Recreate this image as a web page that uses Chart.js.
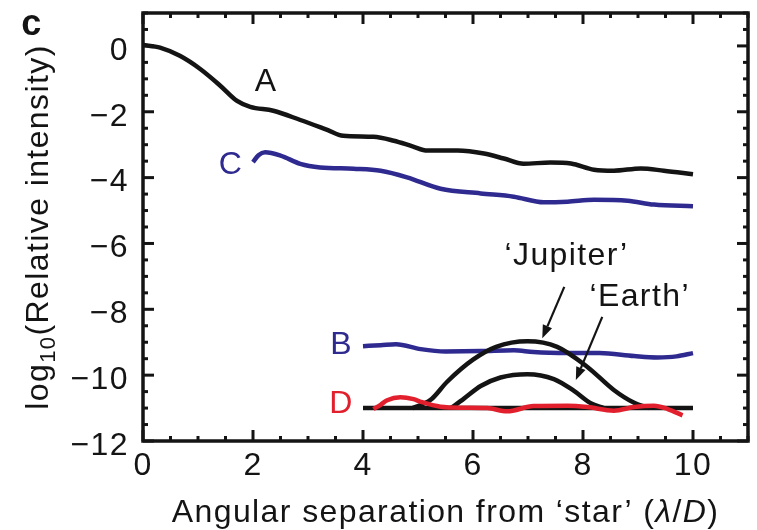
<!DOCTYPE html>
<html><head><meta charset="utf-8">
<script src="https://cdn.jsdelivr.net/npm/chart.js@4/dist/chart.umd.min.js"></script>
<style>html,body{margin:0;padding:0;background:#fff}#wrap{width:757px;height:530px}</style>
</head><body><div id="wrap"><canvas id="c" width="757" height="530"></canvas></div>
<script>
// ---- data ----
const xTickValues = [0, 2, 4, 6, 8, 10];
const xTickLabels = ['0', '2', '4', '6', '8', '10'];
const yTickValues = [-12, -10, -8, -6, -4, -2, 0];
const yTickLabels = ['\u221212', '\u221210', '\u22128', '\u22126', '\u22124', '\u22122', '0'];

const seriesA = [[0,0.03],[0.31,-0.05],[0.67,-0.3],[1.04,-0.7],[1.4,-1.2],[1.71,-1.67],[1.95,-1.85],[2.37,-1.97],[2.86,-2.25],[3.35,-2.55],[3.64,-2.73],[4.19,-2.76],[4.56,-2.88],[4.9,-3.05],[5.17,-3.18],[5.72,-3.18],[6.2,-3.27],[6.56,-3.42],[6.92,-3.58],[7.41,-3.54],[7.78,-3.57],[8.2,-3.76],[8.56,-3.79],[9.05,-3.72],[9.47,-3.79],[10,-3.9]];
const seriesC = [[2.0,-3.53],[2.1,-3.32],[2.22,-3.23],[2.5,-3.33],[2.86,-3.58],[3.22,-3.69],[3.83,-3.73],[4.32,-3.79],[4.8,-3.99],[5.41,-4.34],[6.14,-4.48],[6.74,-4.58],[7.29,-4.75],[7.72,-4.73],[8.2,-4.67],[8.81,-4.7],[9.29,-4.82],[10,-4.87]];
const seriesB = [[4.0,-9.12],[4.32,-9.09],[4.6,-9.06],[5.05,-9.21],[5.5,-9.28],[6.14,-9.27],[6.74,-9.24],[7.1,-9.3],[7.72,-9.33],[8.3,-9.33],[8.93,-9.42],[9.35,-9.46],[9.7,-9.43],[10,-9.33]];
const seriesBaseline = [[4,-11],[10,-11]];
const seriesJupiter = [[4.9,-11],[5.23,-10.75],[5.53,-10.2],[6.0,-9.53],[6.42,-9.14],[6.99,-8.97],[7.53,-9.14],[8.08,-9.75],[8.56,-10.45],[8.93,-10.84],[9.2,-11]];
const seriesEarth = [[5.6,-11],[5.83,-10.72],[6.14,-10.33],[6.5,-10.07],[6.99,-9.97],[7.47,-10.12],[7.83,-10.47],[8.14,-10.85],[8.38,-11]];
const seriesD = [[4.19,-11.03],[4.32,-10.9],[4.44,-10.76],[4.68,-10.67],[4.92,-10.73],[5.05,-10.81],[5.41,-10.96],[5.83,-10.99],[6.26,-11.0],[6.62,-11.1],[7.1,-10.94],[7.72,-10.93],[8.08,-10.97],[8.56,-11.08],[8.93,-10.97],[9.29,-10.93],[9.54,-11.03],[9.81,-11.22]];

// ---- styles / annotations ----
const FONT = '"Liberation Sans", Arial, Helvetica, sans-serif';
const BLACK = '#141414', BLUE = '#2e2a8f', RED = '#e2202d';
const labelsCfg = [
  {t:'A', x:2.24, y:-1.11, c:BLACK},
  {t:'C', x:1.60, y:-3.61, c:BLUE},
  {t:'B', x:3.61, y:-9.09, c:BLUE},
  {t:'D', x:3.61, y:-10.89, c:RED},
  {t:'\u2018Jupiter\u2019', x:7.70, y:-6.38, c:BLACK},
  {t:'\u2018Earth\u2019', x:9.03, y:-7.64, c:BLACK}
];
const arrowsCfg = [
  {x0:7.66, y0:-7.32, x1:7.26, y1:-8.88},
  {x0:8.35, y0:-8.23, x1:7.87, y1:-10.15}
];

const pts = s => s.map(p => ({x:p[0], y:p[1]}));
const ds = (label, s, color) => ({label, data: pts(s), borderColor: color, borderWidth: 4.5, pointRadius: 0, fill: false, cubicInterpolationMode: 'monotone', borderCapStyle: 'butt'});

const deco = {
  id: 'deco',
  beforeDraw(chart) {
    const ctx = chart.ctx;
    ctx.save(); ctx.fillStyle = '#fff'; ctx.fillRect(0, 0, chart.width, chart.height); ctx.restore();
    ctx.letterSpacing = '1.4px';
  },
  afterDraw(chart) {
    const {ctx, chartArea: a, scales: {x, y}} = chart;
    ctx.save();
    ctx.strokeStyle = BLACK; ctx.fillStyle = BLACK;
    const ln = (x0, y0, x1, y1) => { ctx.beginPath(); ctx.moveTo(x0, y0); ctx.lineTo(x1, y1); ctx.stroke(); };
    // inward ticks
    ctx.lineWidth = 3;
    for (let v = x.min; v <= x.max + 1e-9; v += 0.5) {
      const px = x.getPixelForValue(v);
      const L = Math.abs(v / 2 - Math.round(v / 2)) < 1e-9 ? 11 : 5;
      ln(px, a.bottom, px, a.bottom - L); ln(px, a.top, px, a.top + L);
    }
    for (let v = y.min; v <= y.max + 1e-9; v += 0.5) {
      const py = y.getPixelForValue(v);
      const L = Math.abs(v / 2 - Math.round(v / 2)) < 1e-9 ? 11 : 5;
      ln(a.left, py, a.left + L, py); ln(a.right, py, a.right - L, py);
    }
    ctx.lineWidth = 3.5;
    ctx.strokeRect(a.left, a.top, a.right - a.left, a.bottom - a.top);

    // arrows
    ctx.lineWidth = 2.2;
    arrowsCfg.forEach(ar => {
      const X0 = x.getPixelForValue(ar.x0), Y0 = y.getPixelForValue(ar.y0);
      const X1 = x.getPixelForValue(ar.x1), Y1 = y.getPixelForValue(ar.y1);
      const ang = Math.atan2(Y1 - Y0, X1 - X0), H = 13, W = 5;
      const bx = X1 - H * Math.cos(ang), by = Y1 - H * Math.sin(ang);
      ln(X0, Y0, bx, by);
      ctx.beginPath(); ctx.moveTo(X1, Y1);
      ctx.lineTo(bx + W * Math.sin(ang), by - W * Math.cos(ang));
      ctx.lineTo(bx - W * Math.sin(ang), by + W * Math.cos(ang));
      ctx.closePath(); ctx.fill();
    });

    // curve labels
    ctx.font = '32px ' + FONT; ctx.textAlign = 'center'; ctx.textBaseline = 'middle';
    labelsCfg.forEach(l => { ctx.fillStyle = l.c; ctx.fillText(l.t, x.getPixelForValue(l.x), y.getPixelForValue(l.y)); });

    // panel letter
    ctx.fillStyle = BLACK; ctx.font = 'bold 36px ' + FONT; ctx.textBaseline = 'alphabetic';
    ctx.fillText('c', 32, 35);

    // x title
    const segs = [['Angular separation from \u2018star\u2019 (', ''], ['\u03bb', 'italic '], ['/', ''], ['D', 'italic '], [')', '']];
    let tot = 0;
    segs.forEach(s => { ctx.font = s[1] + '32px ' + FONT; s.w = ctx.measureText(s[0]).width; tot += s.w; });
    let cx = (a.left + a.right) / 2 - tot / 2;
    ctx.textAlign = 'left';
    segs.forEach(s => { ctx.font = s[1] + '32px ' + FONT; ctx.fillText(s[0], cx, 522); cx += s.w; });

    // y title
    ctx.save();
    ctx.translate(48, (a.top + a.bottom) / 2);
    ctx.rotate(-Math.PI / 2);
    ctx.font = '32px ' + FONT; const w1 = ctx.measureText('log').width;
    ctx.font = '22px ' + FONT; const w2 = ctx.measureText('10').width;
    ctx.font = '32px ' + FONT; const w3 = ctx.measureText('(Relative intensity)').width;
    let tx = -(w1 + w2 + w3) / 2;
    ctx.fillText('log', tx, 0); tx += w1;
    ctx.font = '22px ' + FONT; ctx.fillText('10', tx, 7); tx += w2;
    ctx.font = '32px ' + FONT; ctx.fillText('(Relative intensity)', tx, 0);
    ctx.restore();
    ctx.restore();
  }
};

new Chart(document.getElementById('c'), {
  type: 'line',
  data: {datasets: [
    ds('D', seriesD, RED),
    ds('Jupiter', seriesJupiter, BLACK),
    ds('Earth', seriesEarth, BLACK),
    ds('baseline', seriesBaseline, BLACK),
    ds('B', seriesB, BLUE),
    ds('A', seriesA, BLACK),
    ds('C', seriesC, BLUE)
  ]},
  options: {
    responsive: false, animation: false, events: [],
    layout: {padding: {top: 13, right: 9, left: 0, bottom: 0}},
    plugins: {legend: {display: false}, tooltip: {enabled: false}},
    scales: {
      x: {
        type: 'linear', min: 0, max: 11,
        afterFit(s) { s.height = 89; s.paddingLeft = 0; s.paddingRight = 0; s.paddingTop = 0; s.paddingBottom = 0; },
        afterBuildTicks(s) { s.ticks = xTickValues.map(v => ({value: v})); },
        ticks: {font: {family: FONT, size: 32}, color: BLACK, padding: 6, maxRotation: 0, autoSkip: false,
                callback: (v, i) => xTickLabels[i]},
        grid: {display: false, drawTicks: false}, border: {display: false}
      },
      y: {
        type: 'linear', min: -12, max: 1,
        afterFit(s) { s.width = 143; s.paddingLeft = 0; s.paddingRight = 0; s.paddingTop = 0; s.paddingBottom = 0; },
        afterBuildTicks(s) { s.ticks = yTickValues.map(v => ({value: v})); },
        ticks: {font: {family: FONT, size: 32}, color: BLACK, padding: 14, labelOffset: 5, autoSkip: false,
                callback: (v, i) => yTickLabels[i]},
        grid: {display: false, drawTicks: false}, border: {display: false}
      }
    }
  },
  plugins: [deco]
});
</script></body></html>
